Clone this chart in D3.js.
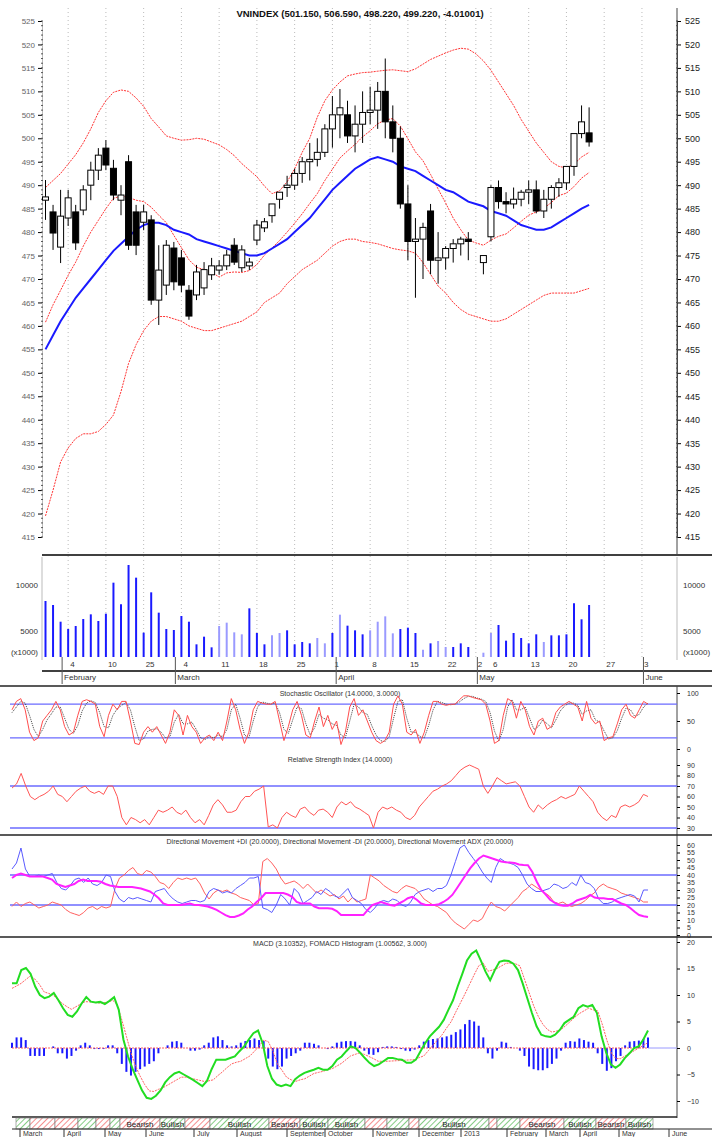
<!DOCTYPE html>
<html><head><meta charset="utf-8">
<script src="https://cdn.jsdelivr.net/npm/d3@7"></script>
<style>body{margin:0;background:#fff}svg{display:block}text{font-family:"Liberation Sans Narrow","Liberation Sans",Arial,sans-serif}</style>
</head><body><svg id="c" width="712" height="1137"></svg>
<script>
// ---------- main panel data (slot index, slot 57 = holiday) ----------
const open  = [486.8,484.3,476.8,483.0,484.3,484.7,490.0,493.2,497.9,493.6,486.8,495.0,484.3,482.1,482.6,465.5,468.7,476.6,474.5,467.6,466.6,468.1,470.9,471.9,472.8,477.2,472.4,472.8,478.3,480.9,483.5,487.0,489.5,490.0,492.5,495.0,495.5,497.0,502.0,505.0,505.0,500.5,503.0,505.5,506.0,510.0,503.5,500.0,486.0,478.0,478.5,484.5,474.0,474.5,476.5,477.5,478.5,null,473.5,479.0,489.5,486.5,486.0,487.0,488.5,489.0,484.5,487.0,489.5,490.5,494.0,501.0,501.15];
const high  = [491.1,485.8,489.0,489.0,485.8,490.0,495.0,497.9,499.6,495.4,490.0,496.4,485.8,485.8,483.6,477.2,478.3,477.9,476.2,468.7,473.0,473.6,474.5,474.0,476.2,478.7,477.2,474.5,482.6,483.0,486.0,488.5,492.0,493.5,496.0,499.0,500.0,503.0,509.0,510.5,508.0,507.0,510.0,511.0,512.0,517.0,507.0,502.5,490.0,483.0,482.0,486.0,480.0,477.0,478.5,479.0,480.0,null,475.0,490.0,491.0,488.5,489.5,489.0,491.0,491.0,489.0,490.0,491.5,493.0,501.0,507.0,506.59];
const low   = [482.6,476.2,473.4,481.3,476.2,483.6,486.8,491.1,493.2,486.8,483.6,476.2,475.1,480.4,464.5,460.2,466.6,467.6,467.2,461.3,465.5,466.6,469.8,470.9,471.9,473.0,471.5,471.9,477.2,480.0,482.0,485.0,487.5,489.0,490.5,491.0,494.0,496.0,498.0,500.0,499.0,497.0,499.0,503.0,502.0,500.0,497.0,485.0,474.0,466.0,470.0,471.0,469.0,472.0,473.5,475.0,474.0,null,471.0,478.0,485.0,484.0,485.0,485.5,486.0,484.0,483.0,485.0,487.5,489.0,492.0,500.0,498.22];
const close = [487.5,479.8,483.4,487.3,477.7,489.0,493.2,496.4,494.3,487.9,487.9,477.2,477.2,484.3,465.5,471.9,477.2,469.4,468.7,462.1,471.5,472.0,472.8,472.8,475.1,473.6,476.2,473.6,481.5,482.2,486.0,488.5,490.0,492.5,495.0,495.5,497.0,502.0,505.0,506.5,500.5,503.0,505.5,506.0,510.0,503.5,500.0,486.0,478.0,478.5,481.0,474.0,474.5,476.5,477.5,478.5,478.0,null,475.0,489.5,486.5,486.0,487.0,488.5,489.0,484.5,487.0,489.5,490.5,494.0,501.0,503.5,499.22];
const bbUpper = [489.5,491,492.5,494.5,496.5,499,502,505.5,508,509.8,510.3,510,508.6,506.8,504.2,502.4,500.5,500,499.6,499.7,500,499.8,499.2,498.6,497.6,496.3,494.6,493.2,491.8,489.8,488.2,488.8,490.7,493.5,497,500,504.5,508,510.3,512,513.3,513.7,514,514.1,514.3,514.5,514.6,514.4,514.2,514.8,515.8,516.8,517.5,518.2,518.8,519.2,519,518,516.5,514.5,512,509.5,507,504,501.5,499,497,495,494,493.7,494.5,496,497];
const ma10 = [460.8,464.5,467.6,470.8,473.6,477,480,482.5,485,487.2,487.7,487.4,486.8,486.5,485.3,483.6,482,479.3,476.7,474.1,472.5,472,471.5,470.4,471.3,471.5,471.4,471.8,473.1,475.1,476.6,478.2,480,481.9,483.9,486.1,488.2,491,493.4,495.8,497.3,498.7,500.3,501.6,503.1,503.9,504.2,502.6,499.9,497.1,495.2,492.3,489.2,486.2,483,480.5,478.3,477.7,477.2,478.3,479.1,479.6,480.9,482.3,483.6,484.3,485.1,486.3,487.8,488.3,489.7,491.5,492.7];
const bbMid   = [455,458,461,463.5,466,468,470,472,474,476,477.5,479,480.5,481.5,482,482,481.5,480.5,480,479.5,478.5,478,477.5,477,476.5,476,475.5,475,475,475.5,476.5,477.5,478.5,480,481.5,483,485,487,489,490.5,492,493.5,494.5,495.5,496,495.5,495,494,493.5,493,492,491,490,489,488.5,487.5,486.5,486,485.5,484.5,484,483.5,482.5,481.5,481,480.5,480.5,481,482,483,484,485,485.8];
const bbLower = [419.5,425,431,434,436,437,437,437.5,439,441,446,452,456,459,461,462,462,461.5,461,460,459.5,459,459,459.5,460,460.5,461,462,463,465,466,467,469,470.5,472,473,474,475.5,477,478,478.5,478.5,478,477.8,477.5,477,476.5,476.2,476,475.5,473.5,471,468.5,467,465,463.5,462.5,462,461.5,461,461,461.5,462.5,463.5,464.5,465.5,466.5,467,467,467,467,467.5,468];
const volume = [8261,7826,6011,5217,5543,6304,6812,6087,6884,10253,7899,12174,10797,4819,9203,6993,5217,5109,6630,6011,3551,4384,3225,5543,5906,4855,4638,7464,4783,3551,4529,4783,5072,3551,3804,3659,4239,3659,4783,6775,5580,5072,4638,5072,6011,6594,4746,5217,5362,4783,2971,3659,3913,3261,3261,3659,3261,null,2641,4783,5652,3949,4783,4239,3659,4638,3804,4529,4529,4638,8011,6272,7826];
const volLight = [23,24,25,26,30,31,36,37,39,43,44,45,46,50,52,53,58,59,66];
const priceTicks = [525,520,515,510,505,500,495,490,485,480,475,470,465,460,455,450,445,440,435,430,425,420,415];
const dayTicks = [{s:3,t:"4"},{s:8,t:"10"},{s:13,t:"25"},{s:18,t:"4"},{s:23,t:"11"},{s:28,t:"18"},{s:33,t:"25"},{s:38,t:"1"},{s:43,t:"8"},{s:48,t:"15"},{s:53,t:"22"},{s:57,t:"2"},{s:59,t:"6"},{s:64,t:"13"},{s:69,t:"20"},{s:74,t:"27"},{s:79,t:"3"}];
const monthTicks = [{s:2.2,t:"February"},{s:17.2,t:"March"},{s:38.5,t:"April"},{s:57.2,t:"May"},{s:79.2,t:"June"}];

// ---------- lower panels (evenly spaced samples) ----------
const stochK = [70,85,90,70,30,15,20,50,60,70,85,70,40,25,30,60,85,88,85,80,40,22,60,80,70,85,85,50,10,8,30,40,30,40,25,10,30,70,60,25,60,40,30,10,20,25,15,30,15,50,90,70,35,10,30,70,85,82,80,80,85,50,15,40,70,85,60,25,20,50,75,40,60,35,50,8,30,75,90,60,70,50,30,15,10,15,30,80,95,80,30,25,35,10,30,60,85,85,80,78,80,80,88,95,95,92,90,88,80,50,10,15,60,90,85,55,85,70,40,25,50,55,35,40,65,75,80,85,80,75,50,85,55,45,50,15,20,22,45,70,80,60,55,70,85,80];
const stochD = [65,75,85,82,60,35,22,35,52,63,75,75,55,35,28,42,68,82,86,83,65,40,38,60,72,78,83,70,40,15,18,32,35,36,30,20,22,48,62,45,45,48,35,20,17,22,20,25,22,35,70,80,55,25,20,50,75,84,82,80,82,65,35,28,52,75,72,45,25,38,62,55,52,45,42,25,20,50,80,75,65,62,42,25,15,13,22,55,85,88,55,30,30,22,20,42,70,85,83,80,79,80,84,90,94,94,91,89,85,65,32,14,35,75,88,70,70,75,55,35,40,52,45,38,52,68,77,82,82,78,62,68,70,52,48,32,18,20,33,55,73,70,58,62,75,82];
const rsi = [68,72,82,70,60,57,60,62,65,70,62,60,55,60,65,68,70,65,63,65,62,70,70,60,40,33,40,38,35,38,33,40,47,45,47,50,45,43,47,40,35,38,33,42,52,57,52,45,45,47,55,60,60,65,67,70,31,33,30,40,45,42,40,48,50,45,42,47,48,45,40,50,55,52,55,50,48,45,42,30,45,50,48,50,47,45,40,38,42,50,55,60,65,67,70,72,75,80,85,88,90,88,86,70,63,70,78,75,72,73,74,70,60,50,45,52,48,52,55,57,60,58,60,62,70,65,60,55,45,40,37,42,40,50,52,50,52,55,62,60];
const diPlus = [44,48,58,44,39,39,40,39,40,41,35,31,30,33,37,38,35,38,34,33,35,40,39,29,24,22,25,24,25,24,23,22,29,30,31,27,24,22,21,22,23,23,22,23,29,31,30,28,29,28,31,33,35,38,38,39,18,17,15,20,27,24,20,31,28,21,23,25,29,27,31,29,26,25,28,31,25,23,21,17,15,18,22,23,22,24,23,20,19,22,27,29,30,31,29,31,31,33,40,49,58,60,55,51,47,42,38,35,45,51,49,48,47,45,40,34,31,29,29,30,31,34,33,31,32,35,33,40,35,34,31,24,21,21,22,24,25,26,27,26,22,30,30];
const diMinus = [19,22,19,21,22,20,18,19,20,22,21,20,17,15,14,13,15,18,19,17,19,18,19,31,38,40,43,45,41,40,43,42,39,35,34,31,35,38,37,38,37,38,34,28,24,28,30,29,30,28,27,25,24,23,20,21,49,51,48,44,38,34,35,36,34,31,34,31,28,30,28,26,27,24,26,22,25,22,23,24,40,38,36,33,31,29,28,31,33,32,31,28,24,22,20,19,17,15,11,8,6,4,7,10,9,11,17,22,19,18,16,19,22,25,29,31,34,32,30,28,26,22,21,22,20,19,20,21,23,26,28,32,34,32,31,30,28,27,26,25,24,22,22];
const adx = [38,40,41,40,39,39,39,39,38,37,34,33,32,33,34,36,37,36,36,36,35.5,34,33,32.5,32,32,32,32,31.5,31,30,29,27,24.5,21,20,20,20,20,20.5,21,20,20,19.5,19,18,16.7,15,13.3,12,12,13,14.4,17,19,22,24.5,28,28,28,28,28,27,25.5,22,21,21,21,19,17.8,17.8,17.8,17.5,16,13.3,13.3,13.3,13.3,13.3,13.3,16.7,20,21,22,21,20,19.5,21,22.5,24.5,25.5,23.5,21,20,20,20,20.5,22,24,26.7,31,35.5,40,44.4,48,51,53,52,51,50,49,48.5,48.4,48,47,46.7,46.5,42,35.5,30,27,23.5,21.5,20,19.5,19.5,21,23,24,25,26.7,25,24.5,24.5,24,24,22.5,21,20,18,15.5,13.3,12.5,12];
const macd = [12.2,12.2,14.7,15.1,14,11.6,10,9.4,9.7,10.4,9,7.5,6.25,5.9,6.9,8.4,9.6,8.75,8.6,8.7,8.3,8.9,9.6,7.2,1.6,-1.6,-4,-6,-8,-9.4,-9.6,-9,-8,-6.5,-5.5,-4.8,-4.5,-5,-5.5,-6,-6.6,-7.2,-6.2,-4,-2.2,-2.2,-2.2,-1.9,-1.6,-0.6,0.3,1.6,2.8,3.3,0.9,-3.4,-5.8,-6.9,-7.2,-6.9,-7.2,-5.9,-5.2,-4.7,-4.4,-4.1,-3.75,-4.1,-4.1,-3.4,-2.2,-1.6,-0.6,0.3,0,-0.9,-1.9,-2.8,-3.4,-3.1,-2.5,-1.9,-1.9,-2.1,-2.2,-2.8,-2.8,-2.2,-0.6,0.9,2.2,3.1,4,5.3,7.2,9,11.6,14,16.5,17.8,18.4,16.5,14.4,12.8,14.7,16.25,16.5,16.4,15.9,14.7,12.2,9.4,6.6,4.1,2.5,2.2,2.1,2.5,3.4,4.7,5.3,5.9,7.5,8.1,7.8,8.1,6.6,2.2,-0.9,-3.1,-3.75,-3.1,-1.9,-1,0,0.3,1.6,3.3];
const signal = [11.25,11.7,12.2,12.9,13.6,13,12,10.6,10.3,10,9.2,8.4,7.8,7.3,7.8,8.3,8.75,8.7,8.6,8.5,8.5,8.7,9,8.2,5.3,2.2,-0.9,-3.4,-5.3,-6.9,-8.1,-8.2,-7.8,-7.5,-7,-6.5,-6,-5.5,-5.5,-5.7,-5.9,-6.1,-6.3,-6.2,-6,-5.2,-4.5,-3.7,-3,-2.7,-2.5,-2,-1.5,-0.6,0.3,1.5,1.2,-0.5,-3,-4.2,-5.5,-6,-6.3,-6,-5.8,-5.3,-4.8,-4.6,-4.4,-4.1,-3.9,-3.4,-2.9,-2.2,-1.5,-1.2,-0.9,-1.2,-1.6,-2,-2.5,-2.5,-2.5,-2.45,-2.4,-2.35,-2.3,-2.25,-2.2,-1.8,-1.5,-0.5,0.5,1.5,2.5,3.8,5,6.8,8.5,10.2,12,13.8,15.5,16,14.5,14.7,15,15.5,16,16,15.9,15.5,13,10.5,8,6,4.5,3.5,3,3.2,3.5,4.2,5,5.8,6.5,7,7.5,7.2,7,4.5,1.5,-1,-2,-2,-1.5,-1,-0.5,0,0.5,1];
const hist = [1,2,2,1.5,-1.5,-1.5,-1.5,-1.5,0,0.3,-1,-1,-2,-1.5,-0.5,0.5,1,0.5,-0.2,-0.2,-0.2,0.5,0.5,-1,-3,-4.5,-5.2,-4.5,-4,-3.5,-3,-2.5,-1,0,0.5,1.2,1.3,1,0,-0.5,-0.5,-0.3,0.5,1,2,2.2,1.5,0.5,0.3,0.5,1,1.3,1.5,1.8,1.5,1.3,-2,-3.5,-4,-3.5,-2,-1.5,-1,-0.5,1,1,0.8,0.5,0,-0.2,0.3,1,1.2,1.3,1.3,1.2,0.5,-0.5,-1.2,-1.3,-0.8,0.2,0.3,0.3,0.2,-0.2,-0.5,-0.6,-0.3,0.5,1.2,1.5,1.7,1.8,2,2.2,2.5,3,3.5,4.5,5.3,5,4.2,2,-1,-2,-0.5,1.2,1,0.2,0,-0.5,-1.5,-3.5,-4,-4.2,-4.2,-3.8,-3,-2,-0.5,1,1.3,1.2,1.8,1.5,1.2,1,-1,-3,-4.3,-3.8,-2.5,-1.5,0.5,1.2,1.3,1.4,1.7,2];
const trendSegs = [[16,30,"g",""],[30,55,"r",""],[55,78,"r",""],[78,96,"g",""],[96,110,"r",""],[110,120,"g",""],[120,160,"r","Bearish"],[160,185,"g","Bullish"],[185,210,"r",""],[210,269,"g","Bullish"],[269,300,"r","Bearish"],[300,328,"g","Bullish"],[328,365,"g","Bullish"],[365,387,"r",""],[387,409,"g",""],[409,419,"r",""],[419,489,"g","Bullish"],[489,497,"r",""],[497,520,"g",""],[520,564,"r","Bearish"],[564,596,"g","Bullish"],[596,626,"r","Bearish"],[626,653,"g","Bullish"]];
const lowerMonths = [{x:20,t:"March"},{x:64,t:"April"},{x:105,t:"May"},{x:146,t:"June"},{x:194,t:"July"},{x:237,t:"August"},{x:287,t:"September"},{x:325,t:"October"},{x:373,t:"November"},{x:419,t:"December"},{x:461,t:"2013"},{x:507,t:"February"},{x:546,t:"March"},{x:580,t:"April"},{x:619,t:"May"},{x:669,t:"June"}];

// ---------- drawing ----------
const svg = d3.select("#c");
const L = 42, R = 677;
const x = d3.scaleLinear().domain([0, 72]).range([45.5, 589.1]);
const y = d3.scaleLinear().domain([415, 525]).range([537, 21]);
const vy = d3.scaleLinear().domain([0, 10000]).range([677, 585]);
const volBase = 657;

svg.append("g").selectAll("line").data(dayTicks).join("line")
  .attr("x1", d => x(d.s)).attr("x2", d => x(d.s)).attr("y1", 8).attr("y2", 657)
  .attr("stroke", "#bbb").attr("stroke-dasharray", "1,3").attr("stroke-width", 1);

const axR = d3.axisRight(y).tickValues(priceTicks).tickSize(4).tickFormat(d3.format("d"));
const gR = svg.append("g").attr("transform", `translate(${R},0)`).call(axR);
gR.select(".domain").attr("stroke", "#444");
gR.selectAll("text").attr("font-size", 9).attr("x", 8).attr("fill", "#222");
const axL = d3.axisLeft(y).tickValues(priceTicks).tickSize(4).tickFormat(d3.format("d"));
const gL = svg.append("g").attr("transform", `translate(${L},0)`).call(axL);
gL.select(".domain").attr("stroke", "#bbb");
gL.selectAll("text").attr("font-size", 8).attr("fill", "#666");
const minor = d3.range(415, 526, 1);
[L, R].forEach(px => svg.append("g").selectAll("rect").data(minor).join("rect")
  .attr("x", px - 1).attr("y", d => y(d) - 0.5).attr("width", 2).attr("height", 1).attr("fill", "#555"));

svg.append("text").attr("x", 360).attr("y", 17).attr("text-anchor", "middle")
  .attr("font-size", 9.5).attr("font-weight", "bold").attr("fill", "#111")
  .text("VNINDEX (501.150, 506.590, 498.220, 499.220, -4.01001)");

const lineOf = () => d3.line().defined(d => d != null).x((d, i) => x(i)).y(d => y(d));
[bbUpper, bbLower, ma10].forEach(arr => svg.append("path").datum(arr).attr("d", lineOf())
  .attr("fill", "none").attr("stroke", "#f33").attr("stroke-width", 1).attr("stroke-dasharray", "2,1"));
svg.append("path").datum(bbMid).attr("d", lineOf()).attr("fill", "none").attr("stroke", "#1a1aff").attr("stroke-width", 2);

const idx = d3.range(open.length).filter(i => open[i] != null);
const cg = svg.append("g");
cg.selectAll("line").data(idx).join("line")
  .attr("x1", i => x(i)).attr("x2", i => x(i)).attr("y1", i => y(high[i])).attr("y2", i => y(low[i]))
  .attr("stroke", "#000").attr("stroke-width", 1);
cg.selectAll("rect").data(idx).join("rect")
  .attr("x", i => x(i) - 3).attr("width", 6)
  .attr("y", i => y(Math.max(open[i], close[i])))
  .attr("height", i => Math.max(1, Math.abs(y(open[i]) - y(close[i]))))
  .attr("fill", i => close[i] >= open[i] ? "#fff" : "#000").attr("stroke", "#000").attr("stroke-width", 1);

svg.append("line").attr("x1", L).attr("x2", 712).attr("y1", 555).attr("y2", 555).attr("stroke", "#000").attr("stroke-width", 1.5);
svg.append("line").attr("x1", R).attr("x2", R).attr("y1", 8).attr("y2", 555).attr("stroke", "#444");

svg.append("g").selectAll("line").data(idx).join("line")
  .attr("x1", i => x(i)).attr("x2", i => x(i)).attr("y1", volBase).attr("y2", i => vy(volume[i]))
  .attr("stroke", i => volLight.includes(i) ? "#9a9aff" : "#1a1aff").attr("stroke-width", 2);
[[L, "end", -4], [R, "start", 6]].forEach(([px, anc, dx]) => {
  const g = svg.append("g").attr("transform", `translate(${px},0)`);
  g.selectAll("text").data([10000, 5000]).join("text").attr("x", dx).attr("y", d => d === 10000 ? 588 : 634)
    .attr("text-anchor", anc).attr("font-size", 8).attr("fill", "#333").text(d => d);
  g.append("text").attr("x", dx).attr("y", 655).attr("text-anchor", anc).attr("font-size", 8).attr("fill", "#333").text("(x1000)");
  g.append("line").attr("y1", 557).attr("y2", 660).attr("stroke", "#bbb");
});
svg.append("line").attr("x1", L).attr("x2", 712).attr("y1", 671).attr("y2", 671).attr("stroke", "#000").attr("stroke-width", 1.5);
svg.append("g").selectAll("text").data(dayTicks).join("text")
  .attr("x", d => x(d.s) + 2).attr("y", 667).attr("font-size", 8).attr("fill", "#333").text(d => d.t);
svg.append("g").selectAll("line").data(monthTicks).join("line")
  .attr("x1", d => x(d.s)).attr("x2", d => x(d.s)).attr("y1", 657).attr("y2", 684).attr("stroke", "#555");
svg.append("g").selectAll("text").data(monthTicks).join("text")
  .attr("x", d => x(d.s) + 2).attr("y", 680).attr("font-size", 8).attr("fill", "#333").text(d => d.t);

const LX0 = 12, LX1 = 648;
const xs = n => d3.scaleLinear().domain([0, n - 1]).range([LX0, LX1]);
svg.append("line").attr("x1", 0).attr("x2", 712).attr("y1", 686).attr("y2", 686).attr("stroke", "#222").attr("stroke-width", 1.5);
svg.append("line").attr("x1", R).attr("x2", R).attr("y1", 686).attr("y2", 1118).attr("stroke", "#444");

function panel(ys, ticks, refs, title, titleY) {
  const ax = d3.axisRight(ys).tickValues(ticks).tickSize(3);
  const g = svg.append("g").attr("transform", `translate(${R},0)`).call(ax);
  g.select(".domain").remove();
  g.selectAll("text").attr("font-size", 7).attr("x", 10).attr("fill", "#333");
  refs.forEach(v => svg.append("line").attr("x1", 10).attr("x2", R).attr("y1", ys(v)).attr("y2", ys(v)).attr("stroke", "#6b6bff").attr("stroke-width", 1.3));
  svg.append("text").attr("x", 340).attr("y", titleY).attr("text-anchor", "middle").attr("font-size", 7).attr("fill", "#333").text(title);
}
function series(arr, ys, color, w, dash) {
  const xx = xs(arr.length);
  svg.append("path").datum(arr).attr("d", d3.line().x((d, i) => xx(i)).y(d => ys(d)))
    .attr("fill", "none").attr("stroke", color).attr("stroke-width", w).attr("stroke-dasharray", dash || null);
}
const sy = d3.scaleLinear().domain([0, 100]).range([749, 693]);
panel(sy, [0, 50, 100], [80, 20], "Stochastic Oscillator (14.0000, 3.0000)", 696);
series(stochD, sy, "#444", 1, "1,1");
series(stochK, sy, "#ff4d4d", 1);
const ry = d3.scaleLinear().domain([30, 90]).range([828, 765]);
panel(ry, [30, 40, 50, 60, 70, 80, 90], [70, 30], "Relative Strength Index (14.0000)", 762);
series(rsi, ry, "#ff5555", 1);
svg.append("line").attr("x1", 0).attr("x2", 712).attr("y1", 835).attr("y2", 835).attr("stroke", "#222").attr("stroke-width", 1.5);
const dy = d3.scaleLinear().domain([0, 60]).range([935, 845]);
panel(dy, d3.range(0, 61, 5), [40, 20], "Directional Movement +DI (20.0000), Directional Movement -DI (20.0000), Directional Movement ADX (20.0000)", 844);
series(diMinus, dy, "#ff6060", 1);
series(diPlus, dy, "#5a5aff", 1);
series(adx, dy, "#ff22ff", 2);
svg.append("line").attr("x1", 0).attr("x2", 712).attr("y1", 937).attr("y2", 937).attr("stroke", "#222").attr("stroke-width", 1.5);
const my = d3.scaleLinear().domain([-10, 20]).range([1101, 942]);
panel(my, [-10, -5, 0, 5, 10, 15, 20], [], "MACD (3.10352), FOMACD Histogram (1.00562, 3.000)", 946);
const hx = xs(hist.length);
svg.append("g").selectAll("line").data(hist).join("line")
  .attr("x1", (d, i) => hx(i)).attr("x2", (d, i) => hx(i)).attr("y1", my(0)).attr("y2", d => my(d))
  .attr("stroke", "#1a1aff").attr("stroke-width", 2);
svg.append("line").attr("x1", LX1).attr("x2", R).attr("y1", my(0)).attr("y2", my(0)).attr("stroke", "#9a9aff");
svg.append("line").attr("x1", LX0).attr("x2", LX1).attr("y1", my(0)).attr("y2", my(0)).attr("stroke", "#ff6060").attr("stroke-dasharray", "2,1");
series(signal, my, "#ff6060", 1, "2,1");
series(macd, my, "#22dd22", 2);

const defs = svg.append("defs");
[["g", "#3a3"], ["r", "#e44"]].forEach(([id, c]) => {
  const p = defs.append("pattern").attr("id", "h" + id).attr("width", 4).attr("height", 4)
    .attr("patternUnits", "userSpaceOnUse").attr("patternTransform", "rotate(45)");
  p.append("rect").attr("width", 4).attr("height", 4).attr("fill", "#fff");
  p.append("line").attr("x1", 0).attr("y1", 0).attr("x2", 0).attr("y2", 4).attr("stroke", c).attr("stroke-width", 1.2);
});
svg.append("line").attr("x1", 12).attr("x2", R).attr("y1", 1117).attr("y2", 1117).attr("stroke", "#222").attr("stroke-width", 1.5);
const ts = svg.append("g");
ts.selectAll("rect").data(trendSegs).join("rect")
  .attr("x", d => d[0]).attr("width", d => d[1] - d[0]).attr("y", 1118).attr("height", 11)
  .attr("fill", d => `url(#h${d[2]})`).attr("stroke", "#777").attr("stroke-width", 0.6);
ts.selectAll("text").data(trendSegs.filter(d => d[3])).join("text")
  .attr("x", d => (d[0] + d[1]) / 2).attr("y", 1126.5).attr("text-anchor", "middle").attr("font-size", 8).attr("fill", "#222").text(d => d[3]);
svg.append("line").attr("x1", 12).attr("x2", 712).attr("y1", 1129).attr("y2", 1129).attr("stroke", "#222");
svg.append("g").selectAll("line").data(lowerMonths).join("line")
  .attr("x1", d => d.x).attr("x2", d => d.x).attr("y1", 1129).attr("y2", 1137).attr("stroke", "#333");
svg.append("g").selectAll("text").data(lowerMonths).join("text")
  .attr("x", d => d.x + 3).attr("y", 1135.5).attr("font-size", 7).attr("fill", "#333").text(d => d.t);
</script></body></html>
